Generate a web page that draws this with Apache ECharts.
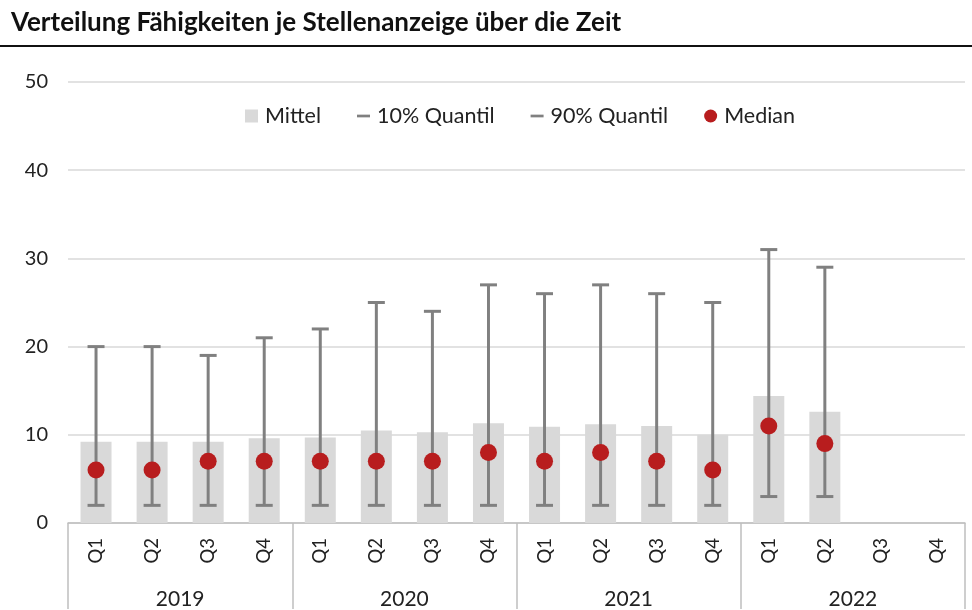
<!DOCTYPE html>
<html lang="de">
<head>
<meta charset="UTF-8">
<title>Verteilung Fähigkeiten je Stellenanzeige</title>
<script src="https://cdn.jsdelivr.net/npm/echarts@6/dist/echarts.min.js"></script>
<style>
	body { margin: 0; background: #fff; }
	#chart { width: 972px; height: 610px; }
</style>
</head>
<body>
	<div id="chart"></div>
	<script type="text/javascript">
		// Daten
		var jahre = ['2019', '2020', '2021', '2022'];
		var quartale = ['Q1', 'Q2', 'Q3', 'Q4'];
		var mittel = [9.2, 9.2, 9.2, 9.6, 9.7, 10.5, 10.3, 11.3, 10.9, 11.2, 11.0, 10.0, 14.4, 12.6];
		var quantil10 = [2, 2, 2, 2, 2, 2, 2, 2, 2, 2, 2, 2, 3, 3];
		var quantil90 = [20, 20, 19, 21, 22, 25, 24, 27, 26, 27, 26, 25, 31, 29];
		var median = [6, 6, 7, 7, 7, 7, 7, 8, 7, 8, 7, 6, 11, 9];

		var kategorien = [];
		jahre.forEach(function () {
			quartale.forEach(function (q) { kategorien.push(q); });
		});

		var grau = '#808080';
		var schrift = 'Lato, "Noto Sans", sans-serif';

		// Whisker: Linie vom Quantil bis zum Median, mit Querstrich am Quantil
		function whisker(params, api) {
			var i = api.value(0);
			var p = api.coord([i, api.value(1)]);
			var m = api.coord([i, api.value(2)]);
			var half = 8.5;
			var st = { stroke: grau, lineWidth: 3 };
			return {
				type: 'group',
				children: [
					{ type: 'line', shape: { x1: p[0], y1: p[1], x2: m[0], y2: m[1] }, style: st },
					{ type: 'line', shape: { x1: p[0] - half, y1: p[1], x2: p[0] + half, y2: p[1] }, style: st }
				]
			};
		}

		var data10 = [], data90 = [];
		for (var i = 0; i < mittel.length; i++) {
			data10.push([i, quantil10[i], median[i]]);
			data90.push([i, quantil90[i], median[i]]);
		}

		var mychart = echarts.init(document.getElementById('chart'));
		var option = {
			animation: false,
			textStyle: { fontFamily: schrift },
			title: {
				text: 'Verteilung Fähigkeiten je Stellenanzeige über die Zeit',
				left: 6,
				top: 5,
				textStyle: { fontSize: 26, fontWeight: 'bold', color: '#111', fontFamily: schrift }
			},
			graphic: [{
				type: 'rect',
				left: 0, top: 45,
				shape: { width: 972, height: 2 },
				style: { fill: '#111' }
			}],
			legend: {
				top: 100,
				left: 240,
				itemWidth: 13,
				itemHeight: 13,
				itemGap: 36,
				textStyle: { fontSize: 21.5, color: '#222', fontFamily: schrift, padding: [0, 0, 0, 2] },
				data: [
					{ name: 'Mittel', icon: 'rect' },
					{ name: '10% Quantil', icon: 'path://M0,0h12v2.5h-12z' },
					{ name: '90% Quantil', icon: 'path://M0,0h12v2.5h-12z' },
					{ name: 'Median', icon: 'circle' }
				]
			},
			grid: { left: 68, right: 7, top: 82, bottom: 86 },
			xAxis: [{
				type: 'category',
				data: kategorien,
				axisLine: { lineStyle: { color: '#BFBFBF', width: 1.5 } },
				axisTick: {
					show: true,
					length: 86,
					interval: function (index) { return index % 4 === 0; },
					lineStyle: { color: '#BFBFBF', width: 1.5 }
				},
				axisLabel: { interval: 0, rotate: 90, margin: 15, fontSize: 18.5, color: '#222' }
			}, {
				type: 'category',
				data: jahre,
				position: 'bottom',
				axisLine: { show: false },
				axisTick: { show: false },
				axisLabel: { margin: 66, fontSize: 21, color: '#222' }
			}],
			yAxis: {
				type: 'value',
				min: 0,
				max: 50,
				interval: 10,
				axisLine: { show: false },
				axisTick: { show: false },
				splitLine: { lineStyle: { color: '#D9D9D9', width: 1.5 } },
				axisLabel: { margin: 20, fontSize: 20, color: '#222' }
			},
			series: [{
				name: 'Mittel',
				type: 'bar',
				data: mittel,
				barWidth: 31,
				itemStyle: { color: '#D9D9D9' },
				z: 1
			}, {
				name: '10% Quantil',
				type: 'custom',
				renderItem: whisker,
				data: data10,
				itemStyle: { color: grau },
				z: 2
			}, {
				name: '90% Quantil',
				type: 'custom',
				renderItem: whisker,
				data: data90,
				itemStyle: { color: grau },
				z: 2
			}, {
				name: 'Median',
				type: 'scatter',
				data: median,
				symbol: 'circle',
				symbolSize: 17,
				itemStyle: { color: '#B81D1E', opacity: 1 },
				z: 3
			}]
		};
		mychart.setOption(option);
	</script>
</body>
</html>
